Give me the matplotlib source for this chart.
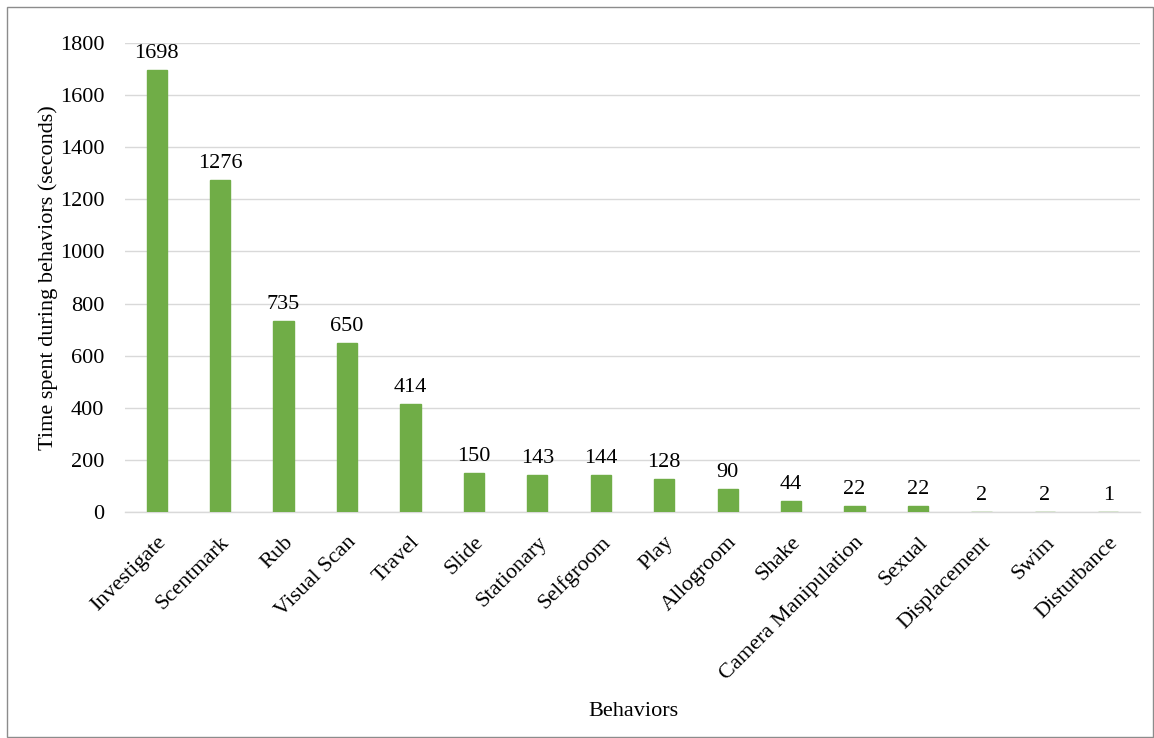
import matplotlib.pyplot as plt
from matplotlib.patches import Rectangle

# Tiempo total por comportamiento (segundos)
behaviors = ["Investigate", "Scentmark", "Rub", "Visual Scan", "Travel", "Slide",
             "Stationary", "Selfgroom", "Play", "Allogroom", "Shake",
             "Camera Manipulation", "Sexual", "Displacement", "Swim", "Disturbance"]
seconds = [1698, 1276, 735, 650, 414, 150, 143, 144, 128, 90, 44, 22, 22, 2, 2, 1]
y_ticks = [0, 200, 400, 600, 800, 1000, 1200, 1400, 1600, 1800]

plt.rcParams['font.family'] = ['Liberation Serif', 'DejaVu Serif']
fs = 16

fig = plt.figure(figsize=(11.54, 7.38), dpi=100)
ax = fig.add_axes([0.1083, 0.3062, 0.8796, 0.6355])

x = range(len(behaviors))
bars = ax.bar(x, seconds, width=0.32, color='#70AD47', edgecolor='#70AD47',
              linewidth=1, zorder=3)
for b, v in zip(bars, seconds):
    ax.annotate(str(v), (b.get_x() + b.get_width() / 2, b.get_height()),
                xytext=(0, 5), textcoords='offset points',
                ha='center', va='bottom', fontsize=fs)

ax.set_xlim(-0.5, len(behaviors) - 0.5)
ax.set_ylim(0, 1800)
ax.set_yticks(y_ticks)
ax.tick_params(axis='y', length=0, labelsize=fs, pad=15)
ax.tick_params(axis='x', length=0, labelsize=fs, pad=15)
ax.set_xticks(list(x))
ax.set_xticklabels(behaviors, rotation=45, ha='right', rotation_mode='anchor')
ax.grid(axis='y', color='#D9D9D9', linewidth=1, zorder=0)
for s in ['top', 'right', 'left']:
    ax.spines[s].set_visible(False)
ax.spines['bottom'].set_color('#D9D9D9')
ax.spines['bottom'].set_linewidth(1)

ax.set_ylabel("Time spent during behaviors (seconds)", fontsize=fs, labelpad=1)
fig.text(0.549, 0.036, "Behaviors", ha='center', va='center', fontsize=fs)

# marco del gráfico
fig.patches.append(Rectangle((0.006, 0.001), 0.993, 0.989, transform=fig.transFigure,
                             fill=False, edgecolor='#8C8C8C', linewidth=1))

plt.savefig("out.png", dpi=100)
